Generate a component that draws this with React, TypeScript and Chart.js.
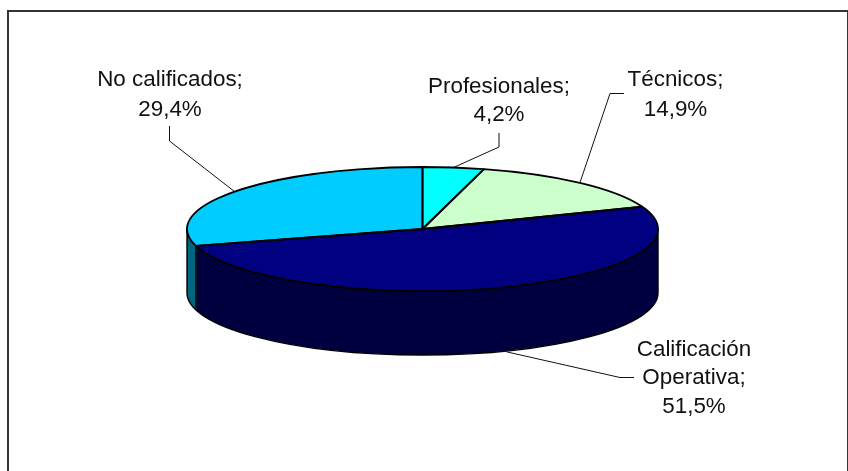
import React, { useEffect, useRef } from "react";
import { Chart, registerables } from "chart.js";

Chart.register(...registerables);

const categories = ["Profesionales", "Técnicos", "Calificación Operativa", "No calificados"];
const values = [4.2, 14.9, 51.5, 29.4];
const valueLabels = ["4,2%", "14,9%", "51,5%", "29,4%"];
const topColors = ["#00FFFF", "#CCFFCC", "#000080", "#00CCFF"];
const sideColors = ["#008080", "#668066", "#000040", "#006680"];

const labelLines = [
  ["Profesionales;", "4,2%"],
  ["Técnicos;", "14,9%"],
  ["Calificación", "Operativa;", "51,5%"],
  ["No calificados;", "29,4%"],
];
const labelCentres = [
  { x: 499, y: 101 },
  { x: 675.5, y: 94.5 },
  { x: 694, y: 378 },
  { x: 170, y: 95 },
];
const labelLineHeights = [28, 30, 28.5, 30];
const leaderStartNudges = [0, 0, 9, 0];
const leaderElbows = [
  [{ x: 499, y: 147 }, { x: 499, y: 133 }],
  [{ x: 610, y: 93.5 }, { x: 624, y: 93.5 }],
  [{ x: 620, y: 377.5 }, { x: 634, y: 377.5 }],
  [{ x: 169.5, y: 141 }, { x: 169.5, y: 126 }],
];

const CX = 422.5;
const CY = 229;
const RX = 235.5;
const RY = 62;
const DEPTH = 64;
const FONT = '22.4px "Liberation Sans", Arial, sans-serif';

function pie3dPlugin() {
  const withPieSpace = (ctx: CanvasRenderingContext2D, arc: any, dy: number, fn: () => void) => {
    ctx.save();
    ctx.translate(CX, CY + dy);
    ctx.scale(RX / arc.outerRadius, RY / arc.outerRadius);
    ctx.translate(-arc.x, -arc.y);
    fn();
    ctx.restore();
  };
  const outlinePath = (ctx: CanvasRenderingContext2D, arc: any) => {
    ctx.beginPath();
    ctx.moveTo(arc.x, arc.y);
    ctx.arc(arc.x, arc.y, arc.outerRadius, arc.startAngle, arc.endAngle);
    ctx.closePath();
  };
  return {
    id: "pie3d",
    beforeDatasetDraw(chart: any) {
      const ctx: CanvasRenderingContext2D = chart.ctx;
      const arcs = chart.getDatasetMeta(0).data;
      // side wall: slice drawn repeatedly, shifted downward
      for (let dy = DEPTH; dy >= 1; dy--) {
        arcs.forEach((arc: any, i: number) => {
          withPieSpace(ctx, arc, dy, () => {
            ctx.fillStyle = sideColors[i];
            outlinePath(ctx, arc);
            ctx.fill();
          });
        });
      }
      // side wall outlines
      ctx.save();
      ctx.strokeStyle = "#000";
      ctx.lineWidth = 1.4;
      const refArc = arcs[0];
      ctx.save();
      ctx.translate(CX, CY + DEPTH);
      ctx.scale(RX / refArc.outerRadius, RY / refArc.outerRadius);
      ctx.beginPath();
      ctx.arc(0, 0, refArc.outerRadius, 0, Math.PI);
      ctx.restore();
      ctx.stroke();
      ctx.beginPath();
      ctx.moveTo(CX + RX, CY);
      ctx.lineTo(CX + RX, CY + DEPTH);
      ctx.moveTo(CX - RX, CY);
      ctx.lineTo(CX - RX, CY + DEPTH);
      const end = arcs[2].endAngle;
      const bx = CX + RX * Math.cos(end);
      const by = CY + RY * Math.sin(end);
      ctx.moveTo(bx, by);
      ctx.lineTo(bx, by + DEPTH);
      ctx.stroke();
      ctx.restore();
      // top face
      arcs.forEach((arc: any, i: number) => {
        withPieSpace(ctx, arc, 0, () => {
          ctx.fillStyle = topColors[i];
          outlinePath(ctx, arc);
          ctx.fill();
        });
      });
      arcs.forEach((arc: any) => {
        ctx.save();
        withPieSpace(ctx, arc, 0, () => outlinePath(ctx, arc));
        ctx.strokeStyle = "#000";
        ctx.lineWidth = 1.8;
        ctx.lineJoin = "round";
        ctx.stroke();
        ctx.restore();
      });
      return false;
    },
    afterDatasetsDraw(chart: any) {
      const ctx: CanvasRenderingContext2D = chart.ctx;
      const arcs = chart.getDatasetMeta(0).data;
      ctx.save();
      ctx.strokeStyle = "#111";
      ctx.lineWidth = 1;
      arcs.forEach((arc: any, i: number) => {
        const mid = (arc.startAngle + arc.endAngle) / 2;
        const sx = CX + RX * Math.cos(mid) + leaderStartNudges[i];
        const syTop = CY + RY * Math.sin(mid);
        const sy = Math.sin(mid) > 0 ? syTop + DEPTH : syTop;
        ctx.beginPath();
        ctx.moveTo(sx, sy);
        leaderElbows[i].forEach((p) => ctx.lineTo(p.x, p.y));
        ctx.stroke();
      });
      ctx.fillStyle = "#111";
      ctx.font = FONT;
      ctx.textAlign = "center";
      ctx.textBaseline = "middle";
      labelLines.forEach((lines, i) => {
        const c = labelCentres[i];
        const h = labelLineHeights[i];
        const top = c.y - ((lines.length - 1) * h) / 2;
        lines.forEach((t, j) => ctx.fillText(t, c.x, top + j * h));
      });
      ctx.restore();
    },
  };
}

export default function App() {
  const ref = useRef<HTMLCanvasElement>(null);
  useEffect(() => {
    document.body.style.margin = "0";
    const chart = new Chart(ref.current!, {
      type: "pie",
      data: {
        labels: categories.map((c, i) => `${c}; ${valueLabels[i]}`),
        datasets: [{ data: values, backgroundColor: topColors, borderWidth: 0 }],
      },
      options: {
        animation: false,
        responsive: false,
        plugins: { legend: { display: false }, tooltip: { enabled: false } },
      },
      plugins: [pie3dPlugin() as any],
    });
    return () => chart.destroy();
  }, []);
  return (
    <div style={{ position: "relative", width: 848, height: 471, background: "#fff", overflow: "hidden" }}>
      <canvas ref={ref} width={848} height={471} style={{ display: "block" }} />
      <div
        style={{
          position: "absolute",
          left: 7,
          top: 10,
          width: 838,
          height: 470,
          border: "2px solid #333",
          boxSizing: "content-box",
        }}
      />
    </div>
  );
}
